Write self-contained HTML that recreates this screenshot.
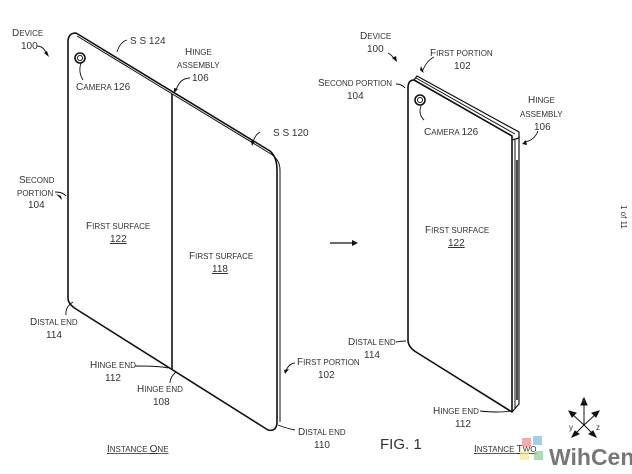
<!DOCTYPE html>
<html><head><style>
html,body{margin:0;padding:0;background:#fff;}
svg{display:block;}
text{font-family:"Liberation Sans",sans-serif;fill:#333;font-size:8px;}
.b{font-size:10px;}
.n{font-size:10px;}
</style></head><body>
<svg width="632" height="474" viewBox="0 0 632 474" xmlns="http://www.w3.org/2000/svg">
<g fill="none" stroke="#111" stroke-width="1.6" stroke-linejoin="round">
<path d="M68,298 L68,42 Q68,33 76,33 L270,151 Q277,157 277,170 L277,423 Q276,432 268,430 L76,309 Q68,304 68,298 Z"/>
<path d="M77,36 L271,154 Q280,160 280,170 L280,422" stroke-width="1"/>
<line x1="172" y1="94" x2="172" y2="369"/>
<circle cx="80" cy="58" r="5"/><circle cx="80" cy="58" r="2.5" stroke-width="1"/>
<path d="M408,340 L408,88 Q408,80 414,80 L512,136 L512,412 L416,352 Q408,347 408,340 Z"/>
<path d="M414,80 L417,76 L519,132 L519,138 L512,140" stroke-width="1.2"/>
<path d="M416,78 L515,134" stroke-width="1"/>
<line x1="515" y1="140" x2="515" y2="408" stroke-width="1"/>
<line x1="517" y1="160" x2="517" y2="400" stroke-width="1.5"/>
<path d="M519,136 L519,404 L512,412" stroke-width="1.2"/>
<circle cx="420" cy="100" r="5"/><circle cx="420" cy="100" r="2.5" stroke-width="1"/>
<line x1="330" y1="243" x2="352" y2="243" stroke-width="1.2"/>
<g stroke-width="0.9">
<path d="M37,46 Q44,46 47,55"/><path d="M127,40 Q120,42 117,52"/>
<path d="M81,63 Q78,72 83,80"/><path d="M190,78 Q180,78 176,90"/>
<path d="M260,132 Q255,135 253,142"/><path d="M55,192 Q63,192 66,196"/>
<path d="M73,302 Q65,307 66,315"/><path d="M135,366 Q160,366 168,368"/>
<path d="M176,372 Q170,377 170,383"/><path d="M295,363 Q290,363 286,370"/>
<path d="M278,425 Q285,428 295,430"/><path d="M388,53 Q392,55 395,60"/>
<path d="M434,57 Q427,60 422,72"/><path d="M396,84 Q402,84 405,88"/>
<path d="M421,106 Q418,114 424,120"/><path d="M538,131 Q534,141 524,142"/>
<path d="M396,342 Q402,341 406,341"/><path d="M480,411 Q500,413 510,411"/>
</g>
</g>
<polygon points="352,240 358,243 352,246" fill="#111"/>
<g fill="#111">
<polygon points="44,53 49,57 47,51"/><polygon points="56,194 61,196 62,200"/>
<polygon points="392,58 397,62 396,56"/><polygon points="420,70 424,73 421,66"/>
<polygon points="522,144 526,140 527,145"/><polygon points="284,370 289,369 285,374"/>
<polygon points="174,88 178,89 174,93"/><polygon points="251,141 255,141 252,146"/>
</g>
<text x="12" y="36"><tspan class="b">D</tspan>EVICE</text><text x="21" y="49" class="n">100</text>
<text x="130" y="44" class="n">S S 124</text>
<text x="185" y="55"><tspan class="b">H</tspan>INGE</text><text x="177" y="68">ASSEMBLY</text><text x="192" y="81" class="n">106</text>
<text x="76" y="90"><tspan class="b">C</tspan>AMERA <tspan class="b">126</tspan></text>
<text x="273" y="136" class="n">S S 120</text>
<text x="19" y="183"><tspan class="b">S</tspan>ECOND</text><text x="17" y="196">PORTION</text><text x="28" y="208" class="n">104</text>
<text x="86" y="229"><tspan class="b">F</tspan>IRST SURFACE</text><text x="110" y="242" class="n" text-decoration="underline">122</text>
<text x="189" y="259"><tspan class="b">F</tspan>IRST SURFACE</text><text x="212" y="272" class="n" text-decoration="underline">118</text>
<text x="30" y="325"><tspan class="b">D</tspan>ISTAL END</text><text x="46" y="338" class="n">114</text>
<text x="90" y="368"><tspan class="b">H</tspan>INGE END</text><text x="105" y="381" class="n">112</text>
<text x="137" y="392"><tspan class="b">H</tspan>INGE END</text><text x="153" y="405" class="n">108</text>
<text x="297" y="365"><tspan class="b">F</tspan>IRST PORTION</text><text x="318" y="378" class="n">102</text>
<text x="298" y="435"><tspan class="b">D</tspan>ISTAL END</text><text x="314" y="448" class="n">110</text>
<text x="107" y="452" text-decoration="underline"><tspan class="b">I</tspan>NSTANCE <tspan class="b">O</tspan>NE</text>
<text x="360" y="39"><tspan class="b">D</tspan>EVICE</text><text x="367" y="52" class="n">100</text>
<text x="430" y="56"><tspan class="b">F</tspan>IRST PORTION</text><text x="454" y="69" class="n">102</text>
<text x="318" y="86"><tspan class="b">S</tspan>ECOND PORTION</text><text x="347" y="99" class="n">104</text>
<text x="424" y="135"><tspan class="b">C</tspan>AMERA <tspan class="b">126</tspan></text>
<text x="528" y="103"><tspan class="b">H</tspan>INGE</text><text x="520" y="117">ASSEMBLY</text><text x="534" y="130" class="n">106</text>
<text x="425" y="233"><tspan class="b">F</tspan>IRST SURFACE</text><text x="448" y="246" class="n" text-decoration="underline">122</text>
<text x="348" y="345"><tspan class="b">D</tspan>ISTAL END</text><text x="364" y="358" class="n">114</text>
<text x="433" y="414"><tspan class="b">H</tspan>INGE END</text><text x="455" y="427" class="n">112</text>
<text x="380" y="449" style="font-size:15px">FIG. 1</text>
<text x="474" y="452" text-decoration="underline"><tspan class="b">I</tspan>NSTANCE <tspan class="b">T</tspan>WO</text>
<text transform="translate(621,205) rotate(90)" style="font-size:8px">1 of 11</text>
<g stroke="#111" stroke-width="1" fill="#111">
<line x1="584" y1="425" x2="584" y2="403"/><polygon points="581,405 587,405 584,398"/>
<line x1="584" y1="425" x2="572" y2="414"/><polygon points="569,411 576,413 572,417"/>
<line x1="584" y1="425" x2="596" y2="414"/><polygon points="599,411 592,413 596,417"/>
<line x1="584" y1="425" x2="575" y2="434"/><polygon points="572,437 579,434 575,431"/>
<line x1="584" y1="425" x2="593" y2="434"/><polygon points="596,437 589,434 593,431"/>
</g>
<text x="582" y="403" style="font-size:7px">x</text><text x="569" y="430" style="font-size:8px">y</text><text x="596" y="430" style="font-size:8px">z</text>
<rect x="522" y="438" width="9" height="9" fill="#e88" opacity="0.7"/>
<rect x="533" y="436" width="9" height="9" fill="#7bd" opacity="0.7"/>
<rect x="520" y="451" width="9" height="9" fill="#ee8" opacity="0.7"/>
<rect x="534" y="451" width="9" height="9" fill="#8c9" opacity="0.7"/>
<text x="549" y="465" style="font-size:23px;font-weight:bold;fill:#777">WihCent</text>
</svg>
</body></html>
